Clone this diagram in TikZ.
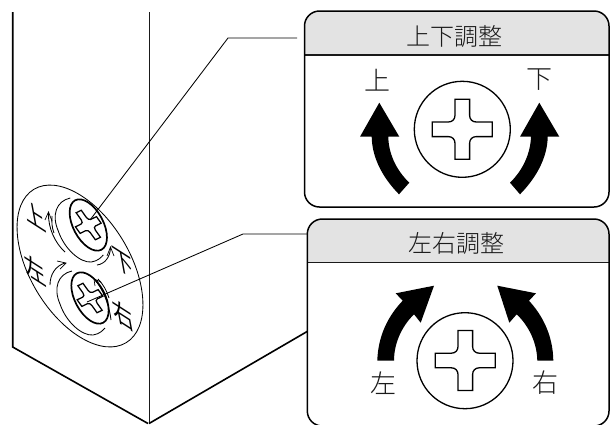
\documentclass[tikz,border=0pt]{standalone}
\usepackage{fontspec}
\newfontfamily\cjk{Noto Sans CJK JP Light}
\newfontfamily\cjkreg{Noto Sans CJK JP}
\definecolor{hdr}{HTML}{E3E3E3}
\definecolor{ink}{HTML}{1A1A1A}
\tikzset{
  panel/.style={draw=black,line width=1.5pt,rounded corners=15pt},
  divider/.style={draw=ink,line width=1.1pt},
  thin line/.style={draw=black,line width=0.85pt},
  edge line/.style={draw=black,line width=1.6pt},
  screw head/.style={draw=black,line width=1.3pt},
  big arrow/.style={fill=black,draw=none},
  title/.style={font=\cjk\fontsize{24}{24}\selectfont,text=ink,inner sep=0pt},
  dirlabel/.style={font=\cjk\fontsize{26}{26}\selectfont,text=ink,inner sep=0pt},
  tiltlabel/.style={font=\cjkreg\fontsize{25}{25}\selectfont,text=black,inner sep=0pt,transform shape,cm={.84,-.54,-.2,1.08,(0,0)}},
  thick ink/.style={draw=black,line width=1.7pt},
  small tip/.style={draw=black,line width=0.7pt}
}
\newcommand{\crosspath}{
  (-7.3,-30) -- (7.3,-30) -- (7.3,-14) .. controls (7.3,-10) and (10,-7.3) .. (14,-7.3)
  -- (30,-7.3) -- (30,7.3) -- (14,7.3) .. controls (10,7.3) and (7.3,10) .. (7.3,14)
  -- (7.3,30) -- (-7.3,30) -- (-7.3,14) .. controls (-7.3,10) and (-10,7.3) .. (-14,7.3)
  -- (-30,7.3) -- (-30,-7.3) -- (-14,-7.3) .. controls (-10,-7.3) and (-7.3,-10) .. (-7.3,-14) -- cycle
}
\newcommand{\smallscrew}[2]{
  \begin{scope}[shift={(#1,#2)}]
    \draw[thick ink] (0,0) ellipse [x radius=28,y radius=15,rotate=-62];
    \begin{scope}[cm={.35,.17,-.32,.45,(0,0)}]
      \draw[draw=black,line width=1.25pt] \crosspath;
    \end{scope}
    \draw[thin line] (-18,-27) .. controls (-32,-24) and (-37,-10) .. (-30,6)
      .. controls (-24,24) and (-8,38) .. (3,37) .. controls (10,36) and (13,32) .. (15,30);
  \end{scope}
}
\begin{document}
\begin{tikzpicture}[x=1pt,y=-1pt]
\useasboundingbox (0,0) rectangle (610,424);
% cabinet
\draw[edge line] (12.7,12) -- (12.7,347) -- (148,423.5);
\draw[draw=ink,line width=1pt] (149,12) -- (149,423.5);
\draw[edge line] (149,423.5) -- (308,331);
% large ellipse
\draw[thin line] (80,266) ellipse [x radius=89.5,y radius=50,rotate=-59];
% screws
\smallscrew{88.3}{225}
\smallscrew{90}{298}
% direction arcs
\draw[thin line] (65,252) .. controls (55,243) and (48,228) .. (48.5,213);
\draw[thin line] (52,216) .. controls (51.5,222) and (52,228) .. (54,233);
\draw[small tip] (45,220) -- (48.5,212) -- (52,221);
\draw[thin line] (50,285) .. controls (50,275) and (55,266) .. (65,263);
\draw[small tip] (57,261) -- (66,263) -- (60,269);
\draw[thin line] (97,265) .. controls (105,264) and (110,257) .. (110.5,248);
\draw[small tip] (107,256) -- (110.5,247) -- (114,256);
\draw[thin line] (95,280) .. controls (102,288) and (109,303) .. (111,320);
\draw[thin line] (98,279) .. controls (103,284) and (107,291) .. (109,298);
\draw[small tip] (95,286) -- (94,279) -- (101,282);
% tilted labels
\node[tiltlabel] (tu) at (35,215.7) {上};
\node[tiltlabel] (tl) at (35,270) {左};
\node[tiltlabel] (td) at (123,263) {下};
\node[tiltlabel] (tr) at (123,315) {右};
% leaders
\coordinate (l1a) at (297,38);
\coordinate (l1b) at (228,38);
\coordinate (l1c) at (90,220);
\draw[thin line] (l1a) -- (l1b) -- (l1c);
\coordinate (l2a) at (308,234);
\coordinate (l2b) at (243,234);
\coordinate (l2c) at (87,302);
\draw[thin line] (l2a) -- (l2b) -- (l2c);
% panel 1
\fill[white,rounded corners=15pt] (304.5,11) rectangle (609,207);
\begin{scope}
  \path[clip,rounded corners=15pt] (304.5,11) rectangle (609,207);
  \fill[hdr] (304.5,11) rectangle (609,55);
\end{scope}
\draw[divider] (304.5,55) -- (609,55);
\draw[panel] (304.5,11) rectangle (609,207);
\node[title] (t1) at (454,36) {上下調整};
\node[dirlabel] (u1) at (377.7,80) {上};
\node[dirlabel] (d1) at (539,80) {下};
\node[screw head,circle,minimum size=96pt,inner sep=0pt] (c1) at (462.3,129.3) {};
\begin{scope}[shift={(462.3,129.3)}]
  \draw[screw head] \crosspath;
\end{scope}
\fill[big arrow] (379.3,102.7) -- (399.3,136.7) -- (388.3,136.7)
  .. controls (388.5,152) and (395,169) .. (409.3,182.7) -- (399,194.3)
  .. controls (382,177) and (372,157) .. (371.7,136.7) -- (360,136.7) -- cycle;
\fill[big arrow] (539.3,102.7) -- (559.3,136.7) -- (547.7,136.7)
  .. controls (547.4,157) and (537,177) .. (520,194.3) -- (510,182.7)
  .. controls (524,169) and (530.5,152) .. (531,136.7) -- (520,136.7) -- cycle;
% panel 2
\fill[white,rounded corners=15pt] (307.3,219) rectangle (609,426);
\begin{scope}
  \path[clip,rounded corners=15pt] (307.3,219) rectangle (609,426);
  \fill[hdr] (307.3,219) rectangle (609,262.7);
\end{scope}
\draw[divider] (307.3,262.7) -- (609,262.7);
\draw[panel] (307.3,219) rectangle (609,426);
\node[title] (t2) at (456.7,243) {左右調整};
\node[dirlabel] (l2) at (383.3,383) {左};
\node[dirlabel] (r2) at (545,383) {右};
\node[screw head,circle,minimum size=96pt,inner sep=0pt] (c2) at (465,360.7) {};
\begin{scope}[shift={(465.3,360.5)}]
  \draw[screw head] \crosspath;
\end{scope}
\fill[big arrow] (434,285.7) -- (420.7,322.7) -- (414,314.3)
  .. controls (402,326) and (394,343) .. (394,360.7) -- (377.3,360.7)
  .. controls (378,336) and (388,316) .. (402.7,300.7) -- (395.7,293.3) -- cycle;
\fill[big arrow] (497.3,285.7) -- (536,293.3) -- (529,300.7)
  .. controls (543,316) and (553,336) .. (553.3,360.7) -- (537.3,360.7)
  .. controls (537,343) and (529,326) .. (516.7,314.3) -- (509.3,322.7) -- cycle;
\end{tikzpicture}
\end{document}
